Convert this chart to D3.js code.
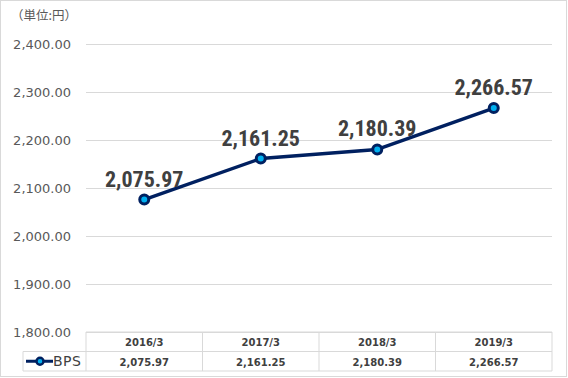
<!DOCTYPE html>
<html>
<head>
<meta charset="utf-8">
<script src="https://cdn.jsdelivr.net/npm/d3@7"></script>
<style>
  body { margin: 0; background: #fff; }
  svg { display: block; }
  .tick text { font-family: "DejaVu Sans", sans-serif; }
</style>
</head>
<body>
<div id="chart"></div>
<script>
// data
const categories = ["2016/3", "2017/3", "2018/3", "2019/3"];
const bpsValues = [2075.97, 2161.25, 2180.39, 2266.57];
const yTicks = [1800, 1900, 2000, 2100, 2200, 2300, 2400];
const seriesName = "BPS";
const unitLabel = "（単位:円）";

const W = 568, H = 378;
const plot = { left: 86, right: 552, top: 44, bottom: 332 };
const rowH = 19.5;

const svg = d3.select("#chart").append("svg")
    .attr("width", W).attr("height", H);

// outer frame
svg.append("rect")
    .attr("x", 0.5).attr("y", 0.5)
    .attr("width", 566).attr("height", 376)
    .attr("fill", "#fff").attr("stroke", "#d9d9d9");

const x = d3.scaleBand().domain(categories).range([plot.left, plot.right]);
const y = d3.scaleLinear().domain([1800, 2400]).range([plot.bottom, plot.top]);

const fmt = d3.format(",.2f");

/* unit label */
svg.append("text")
    .attr("x", 11).attr("y", 20)
    .attr("font-family", "'Noto Sans CJK JP', sans-serif")
    .attr("font-size", 12.5).attr("fill", "#595959")
    .text(unitLabel);

/* gridlines + y labels */
const yAxis = svg.append("g")
    .attr("transform", `translate(${plot.left},0)`)
    .call(d3.axisLeft(y).tickValues(yTicks).tickSize(-(plot.right - plot.left)).tickPadding(15).tickFormat(fmt));
yAxis.select(".domain").remove();
yAxis.selectAll(".tick line").attr("stroke", "#d9d9d9");
yAxis.selectAll(".tick text")
    .attr("font-size", 13).attr("fill", "#595959");

/* data table */
const table = svg.append("g").attr("stroke", "#d9d9d9").attr("fill", "none");
const tTop = plot.bottom, tMid = plot.bottom + rowH, tBot = plot.bottom + 2 * rowH;
table.append("line").attr("x1", plot.left).attr("x2", plot.right).attr("y1", tTop).attr("y2", tTop);
table.append("line").attr("x1", 23).attr("x2", plot.right).attr("y1", tMid).attr("y2", tMid);
table.append("line").attr("x1", 23).attr("x2", plot.right).attr("y1", tBot).attr("y2", tBot);
table.append("line").attr("x1", 23).attr("x2", 23).attr("y1", tMid).attr("y2", tBot);
const colEdges = categories.map(c => x(c)).concat([plot.right]);
table.selectAll(".col").data(colEdges).join("line")
    .attr("x1", d => d).attr("x2", d => d)
    .attr("y1", tTop).attr("y2", tBot);

svg.append("g").selectAll("text").data(categories).join("text")
    .attr("x", d => x(d) + x.bandwidth() / 2)
    .attr("y", tTop + 14)
    .attr("text-anchor", "middle")
    .attr("font-family", "'DejaVu Sans', sans-serif")
    .attr("font-size", 10).attr("font-weight", "bold").attr("fill", "#404040")
    .text(d => d);

svg.append("g").selectAll("text").data(bpsValues).join("text")
    .attr("x", (d, i) => x(categories[i]) + x.bandwidth() / 2)
    .attr("y", tMid + 14)
    .attr("text-anchor", "middle")
    .attr("font-family", "'DejaVu Sans', sans-serif")
    .attr("font-size", 10).attr("font-weight", "bold").attr("fill", "#404040")
    .text(d => fmt(d));

/* legend key in table */
const lgY = tMid + rowH / 2;
svg.append("line").attr("x1", 26).attr("x2", 53).attr("y1", lgY).attr("y2", lgY)
    .attr("stroke", "#002060").attr("stroke-width", 3);
svg.append("circle").attr("cx", 40).attr("cy", lgY).attr("r", 3.5)
    .attr("fill", "#00b0f0").attr("stroke", "#002060").attr("stroke-width", 2.5);
svg.append("text").attr("x", 53).attr("y", lgY + 5)
    .attr("font-family", "'DejaVu Sans', sans-serif")
    .attr("font-size", 14).attr("letter-spacing", 0.5).attr("fill", "#404040")
    .text(seriesName);

/* line */
const pts = bpsValues.map((v, i) => ({ cat: categories[i], v }));
const cx = d => x(d.cat) + x.bandwidth() / 2;
svg.append("path")
    .datum(pts)
    .attr("d", d3.line().x(cx).y(d => y(d.v)))
    .attr("fill", "none").attr("stroke", "#002060").attr("stroke-width", 3.5)
    .attr("stroke-linejoin", "round");

svg.append("g").selectAll("circle").data(pts).join("circle")
    .attr("cx", cx).attr("cy", d => y(d.v)).attr("r", 4.5)
    .attr("fill", "#00b0f0").attr("stroke", "#002060").attr("stroke-width", 3);

/* data labels */
svg.append("g").selectAll("text").data(pts).join("text")
    .attr("x", cx).attr("y", d => y(d.v) - 13)
    .attr("text-anchor", "middle")
    .attr("font-family", "'Liberation Sans Narrow', 'Roboto Condensed', Roboto, sans-serif")
    .attr("font-size", 22).attr("font-weight", "bold").attr("fill", "#404040")
    .text(d => fmt(d.v));
</script>
</body>
</html>
